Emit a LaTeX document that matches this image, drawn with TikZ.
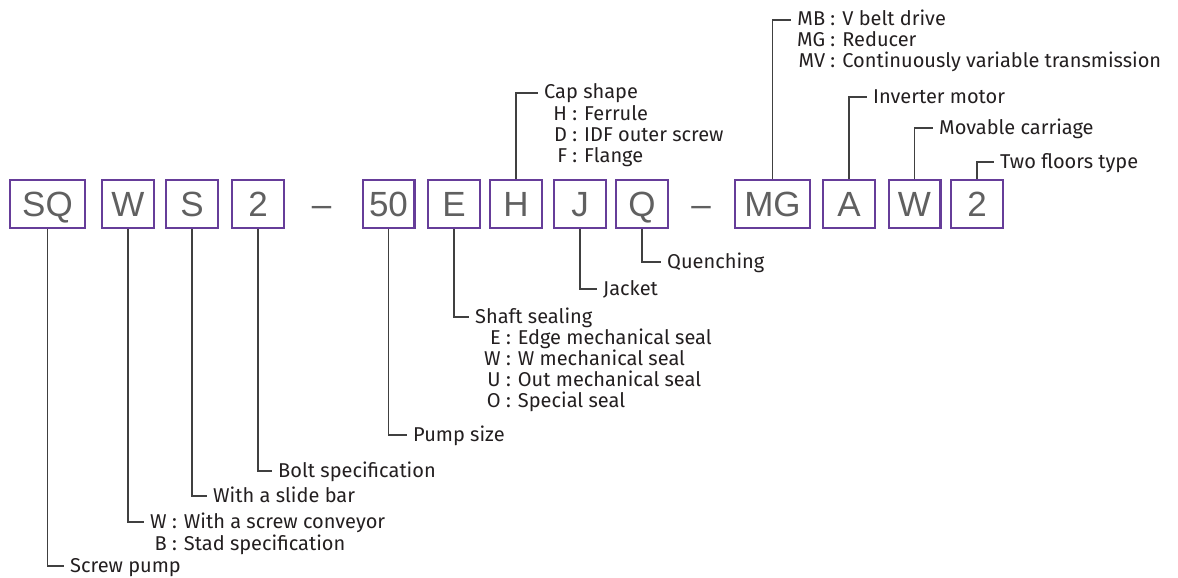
\documentclass[tikz,border=0pt]{standalone}
\usepackage{fontspec}
\setmainfont{Fira Sans}
\newfontfamily\boxfont{Liberation Sans}
\usepackage{xcolor}
\definecolor{purp}{RGB}{102,  61, 153}
\definecolor{letter}{RGB}{ 96,  96,  96}
\definecolor{ink}{RGB}{ 35,  31,  32}
\definecolor{wirec}{RGB}{ 64,  64,  64}
\usepackage{tikz}
\usetikzlibrary{positioning}
\newcommand{\opt}[3][W]{\phantom{#1}\llap{#2} : #3}
\tikzset{
  codebox/.style={draw=purp, line width=2.4pt, minimum width=51.6pt,
    minimum height=47.6pt, inner sep=0pt, text height=25pt, text depth=0pt,
    font=\boxfont\fontsize{35}{35}\selectfont, text=letter},
  widebox/.style={codebox, minimum width=74.6pt},
  dashsign/.style={anchor=base, inner sep=0pt,
    font=\boxfont\fontsize{35}{35}\selectfont, text=letter},
  lbl/.style={anchor=west, inner xsep=6pt, inner ysep=0pt,
    text height=12pt, text depth=0pt,
    font=\fontsize{20}{21}\selectfont, text=ink},
  lst/.style={anchor=base west, inner sep=0pt, align=left,
    font=\fontsize{20}{21}\selectfont, text=ink},
  wire/.style={draw=wirec, line width=1.3pt}
}
\begin{document}
\begin{tikzpicture}[x=1pt, y=-1pt]

  \useasboundingbox (0,0) rectangle (1178,578);

  \node[widebox] (sq)  at (47.5,204) {SQ};
  \node[codebox] (wb)  at (128,204)  {W};
  \node[codebox] (sb)  at (192,204)  {S};
  \node[codebox] (tb)  at (258,204)  {2};
  \node[dashsign] (d1) at (321.5,216.5) {–};
  \node[codebox] (fb)  at (388.5,204) {50};
  \node[codebox] (eb)  at (454,204)  {E};
  \node[codebox] (hb)  at (516,204)  {H};
  \node[codebox] (jb)  at (580,204)  {J};
  \node[codebox] (qb)  at (642,204)  {Q};
  \node[dashsign] (d2) at (701,216.5) {–};
  \node[widebox] (mg)  at (772.5,204) {MG};
  \node[codebox] (ab)  at (849,204)  {A};
  \node[codebox] (wc)  at (914.5,204) {W};
  \node[codebox] (tc)  at (977,204)  {2};

  \node[lbl] (scrw)  at (64,566)  {Screw pump};
  \node[lbl] (conv)  at (144,522) {\opt{W}{With a screw conveyor}};
  \node[lst] (stad)  at (150,550) {\opt{B}{Stad specification}};
  \node[lbl] (slide) at (207,496) {With a slide bar};
  \node[lbl] (bolt)  at (272,471) {Bolt specification};
  \node[lbl] (size)  at (407,435) {Pump size};
  \node[lbl] (seal)  at (469,317) {Shaft sealing};
  \node[lst] (seals) at (484,407)
    {\opt{E}{Edge mechanical seal}\\\opt{W}{W mechanical seal}\\
     \opt{U}{Out mechanical seal}\\\opt{O}{Special seal}};
  \node[lbl] (jack)  at (597,289) {Jacket};
  \node[lbl] (quen)  at (661,262) {Quenching};

  \node[lbl] (cap)   at (538,93)  {Cap shape};
  \node[lst] (caps)  at (554,162)
    {\opt[D]{H}{Ferrule}\\\opt[D]{D}{IDF outer screw}\\\opt[D]{F}{Flange}};
  \node[lbl] (belt)  at (791,20)  {\opt[MG]{MB}{V belt drive}};
  \node[lst] (drive) at (797,68)
    {\opt[MG]{MG}{Reducer}\\\opt[MG]{MV}{Continuously variable transmission}};
  \node[lbl] (motor) at (867,97)  {Inverter motor};
  \node[lbl] (carr)  at (933,128) {Movable carriage};
  \node[lbl] (floor) at (994,162) {Two floors type};

  \draw[wire] (sq.south) |- (scrw.west);
  \draw[wire] (wb.south) |- (conv.west);
  \draw[wire] (sb.south) |- (slide.west);
  \draw[wire] (tb.south) |- (bolt.west);
  \draw[wire] (fb.south) |- (size.west);
  \draw[wire] (eb.south) |- (seal.west);
  \draw[wire] (jb.south) |- (jack.west);
  \draw[wire] (qb.south) |- (quen.west);
  \draw[wire] (hb.north) |- (cap.west);
  \draw[wire] (mg.north) |- (belt.west);
  \draw[wire] (ab.north) |- (motor.west);
  \draw[wire] (wc.north) |- (carr.west);
  \draw[wire] (tc.north) |- (floor.west);

\end{tikzpicture}
\end{document}
